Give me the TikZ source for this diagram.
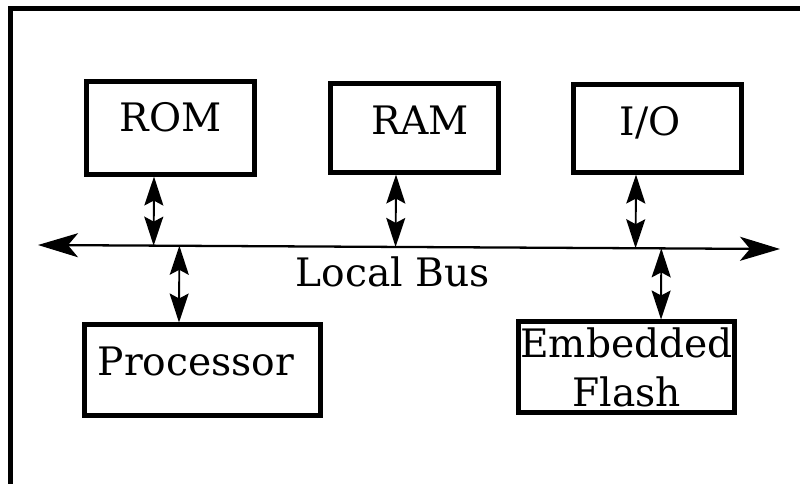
\documentclass[tikz,border=0pt]{standalone}
\usepackage{fontspec}
\setmainfont{DejaVu Serif}
\usepackage{tikz}
\usetikzlibrary{calc,arrows.meta}

\begin{document}
\begin{tikzpicture}[
                      blk/.style={draw, line width=2.3pt, inner sep=0pt, align=center},
                      bus/.style={line width=1.3pt, {Stealth[length=0.8cm, width=0.48cm, inset=0.2cm]}-{Stealth[length=0.8cm, width=0.48cm, inset=0.2cm]}},
                      link/.style={line width=1.1pt, {Stealth[length=0.58cm, width=0.38cm, inset=0.1cm]}-{Stealth[length=0.58cm, width=0.38cm, inset=0.1cm]}},
                      txt/.style={font=\fontsize{22.3}{28}\selectfont}
                  ]
                      \useasboundingbox (0,0) rectangle (16,-9.66);
                      \draw [line width=2.6pt] (0.21,-9.8) -- (0.21,-0.17) -- (16.2,-0.17);
                      % the boxes
                      \node [blk, minimum width=3.36cm, minimum height=1.86cm, label={[txt, yshift=0.22cm]center:ROM}] (rom) at (3.41,-2.56) {};
                      \node [blk, minimum width=3.36cm, minimum height=1.78cm, label={[txt, xshift=0.11cm, yshift=0.16cm]center:RAM}] (ram) at (8.29,-2.56) {};
                      \node [blk, minimum width=3.36cm, minimum height=1.76cm, label={[txt, xshift=-0.15cm, yshift=0.11cm]center:I/O}] (io) at (13.15,-2.57) {};
                      \node [blk, minimum width=4.72cm, minimum height=1.82cm, label={[txt, xshift=-0.13cm, yshift=0.18cm]center:Processor}] (proc) at (4.05,-7.40) {};
                      \node [blk, txt, minimum width=4.32cm, minimum height=1.82cm] (flash) at (12.53,-7.34) {Embedded\\Flash};
                      % the bus
                      \coordinate (busL) at (0.76,-4.90);
                      \coordinate (busR) at (15.60,-4.98);
                      \draw [bus] (busL) -- (busR);
                      \node [txt] (buslbl) at (7.86,-5.44) {Local Bus};
                      % links to the bus
                      \draw [link] ([xshift=-0.33cm]rom.south) -- ($(busL)!([xshift=-0.33cm]rom.south)!(busR)$);
                      \draw [link] ([xshift=-0.37cm]ram.south) -- ($(busL)!([xshift=-0.37cm]ram.south)!(busR)$);
                      \draw [link] ([xshift=-0.43cm]io.south) -- ($(busL)!([xshift=-0.43cm]io.south)!(busR)$);
                      \draw [link] ($(busL)!([xshift=-0.47cm]proc.north)!(busR)$) -- ([xshift=-0.47cm]proc.north);
                      \draw [link] ($(busL)!([xshift=0.69cm]flash.north)!(busR)$) -- ([xshift=0.69cm]flash.north);
                  \end{tikzpicture}
\end{document}
